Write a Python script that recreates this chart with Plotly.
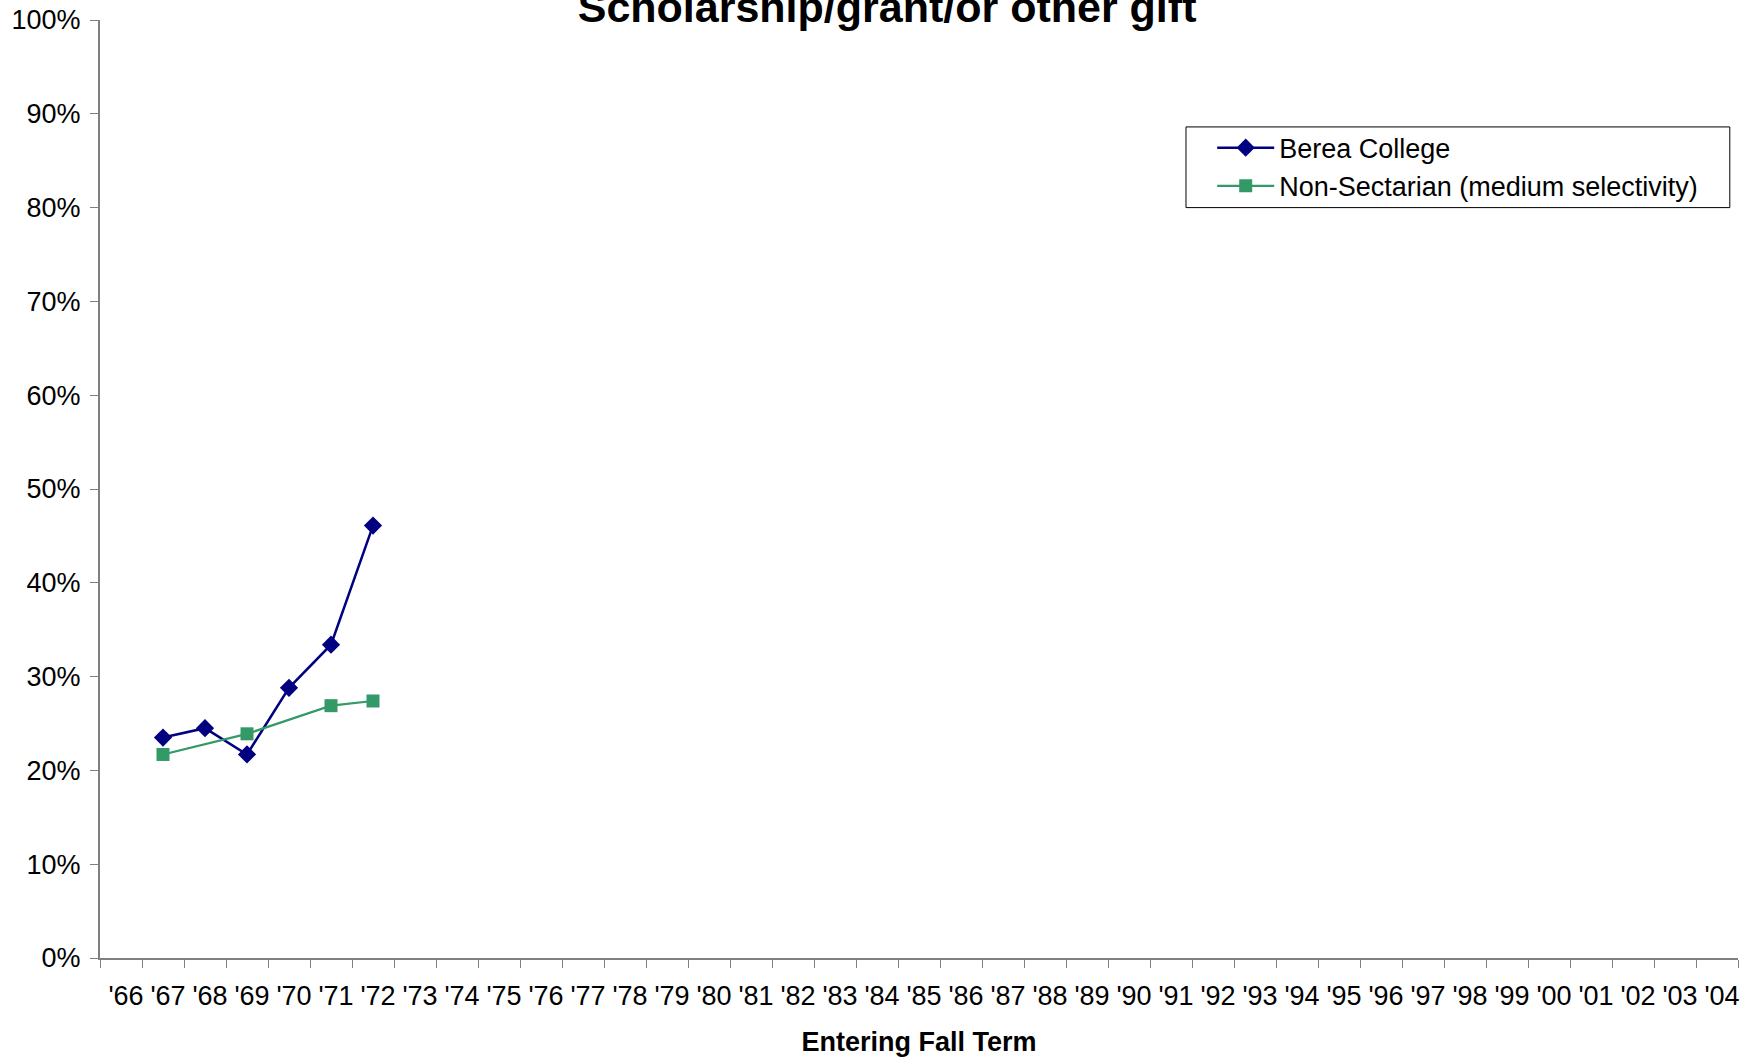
import plotly.graph_objects as go

# entering fall term categories
years = ["'66", "'67", "'68", "'69", "'70", "'71", "'72", "'73", "'74", "'75",
         "'76", "'77", "'78", "'79", "'80", "'81", "'82", "'83", "'84", "'85",
         "'86", "'87", "'88", "'89", "'90", "'91", "'92", "'93", "'94", "'95",
         "'96", "'97", "'98", "'99", "'00", "'01", "'02", "'03", "'04"]

berea_years = ["'67", "'68", "'69", "'70", "'71", "'72"]
berea_vals = [0.235, 0.245, 0.217, 0.288, 0.334, 0.461]

nonsect_years = ["'67", "'69", "'71", "'72"]
nonsect_vals = [0.217, 0.239, 0.269, 0.274]

y_ticks = [0, 0.1, 0.2, 0.3, 0.4, 0.5, 0.6, 0.7, 0.8, 0.9, 1.0]

font = 'Liberation Sans, Arial, sans-serif'

data = [
    go.Scatter(
        x=berea_years, y=berea_vals,
        name='Berea College',
        mode='lines+markers',
        line=dict(color='#000080', width=2.5),
        marker=dict(symbol='diamond', size=14, color='#000080'),
    ),
    go.Scatter(
        x=nonsect_years, y=nonsect_vals,
        name='Non-Sectarian (medium selectivity)',
        mode='lines+markers',
        line=dict(color='#339966', width=2.2),
        marker=dict(symbol='square', size=13, color='#339966'),
    ),
]

layout = go.Layout(
    template='none',
    width=1749, height=1057,
    margin=dict(l=100, r=11, t=20, b=99, autoexpand=False),
    paper_bgcolor='white',
    plot_bgcolor='white',
    font=dict(family=font, size=27, color='black'),
    title=dict(
        text='<b>Scholarship/grant/or other gift</b>',
        font=dict(size=43, color='black'),
        xref='container', x=0.5072, xanchor='center',
        yref='container', y=0.9934, yanchor='middle',
    ),
    xaxis=dict(
        type='category',
        categoryorder='array',
        categoryarray=years,
        range=[-0.5, len(years) - 0.5],
        tickmode='array',
        tickvals=years,
        ticktext=years,
        tickson='boundaries',
        ticks='outside',
        ticklen=8,
        tickcolor='#808080',
        showline=True,
        linecolor='#808080',
        linewidth=2,
        showgrid=False,
        zeroline=False,
        automargin=False,
        tickangle=0,
        ticklabelstandoff=13,
        ticklabelshift=5,
        title=dict(text='<b>Entering Fall Term</b>', font=dict(size=27), standoff=22),
    ),
    yaxis=dict(
        range=[0, 1],
        tickvals=y_ticks,
        tickformat='.0%',
        ticks='outside',
        ticklen=8,
        tickcolor='#808080',
        showline=True,
        linecolor='#808080',
        linewidth=2,
        showgrid=False,
        zeroline=False,
        automargin=False,
        ticklabelstandoff=4,
    ),
    legend=dict(
        x=0.679, y=0.8895, xanchor='left', yanchor='top',
        borderwidth=0,
        bgcolor='rgba(0,0,0,0)',
        itemwidth=57,
        font=dict(size=27),
    ),
    showlegend=True,
    # legend frame
    shapes=[dict(
        type='rect', xref='paper', yref='paper',
        x0=0.663, x1=0.995, y0=0.800, y1=0.886,
        line=dict(color='black', width=1),
        fillcolor='rgba(0,0,0,0)',
    )],
)

fig = go.Figure(data=data, layout=layout)
fig.write_html("out.html", config={'displayModeBar': False},
               post_script="document.body.style.margin='0';")
